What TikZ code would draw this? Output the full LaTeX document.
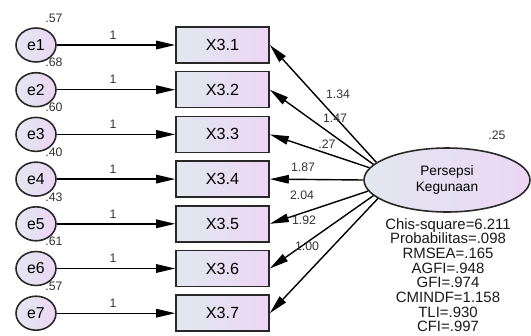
\documentclass[tikz,border=0pt]{standalone}
\usepackage{fontspec}
\setmainfont{Liberation Sans}
\usetikzlibrary{arrows.meta,shapes.geometric}
\definecolor{shadeleft}{RGB}{226,232,240}
\definecolor{shaderight}{RGB}{236,214,244}
\definecolor{linegray}{RGB}{40,40,40}
\begin{document}
\begin{tikzpicture}[x=0.02cm,y=-0.02cm,
	errnode/.style={draw=linegray,line width=0.9pt,ellipse,minimum width=0.8cm,minimum height=0.68cm,inner sep=0pt,left color=shadeleft,right color=shaderight,font=\fontsize{9}{10}\selectfont},
	obsnode/.style={draw=linegray,line width=0.9pt,rectangle,minimum width=1.86cm,minimum height=0.72cm,inner sep=0pt,left color=shadeleft,right color=shaderight,font=\fontsize{9.2}{10}\selectfont},
	latnode/.style={draw=linegray,line width=0.9pt,ellipse,minimum width=3.32cm,minimum height=1.28cm,inner sep=0pt,left color=shadeleft,right color=shaderight,align=center,font=\fontsize{7.8}{9.1}\selectfont},
	val/.style={font=\fontsize{7}{8}\selectfont,text=black!80,inner sep=0pt},
	path/.style={-{Triangle[length=0.38cm,width=0.17cm]},line width=0.8pt}]
	\useasboundingbox (0,0) rectangle (531,335);
	
	\node[errnode] (E1) at (36,45) {e1};
	\node[errnode] (E2) at (36,89.7) {e2};
	\node[errnode] (E3) at (36,134.4) {e3};
	\node[errnode] (E4) at (36,179.1) {e4};
	\node[errnode] (E5) at (36,223.8) {e5};
	\node[errnode] (E6) at (36,268.5) {e6};
	\node[errnode] (E7) at (36,313.2) {e7};
	
	\node[obsnode] (X31) at (222.5,45) {X3.1};
	\node[obsnode] (X32) at (222.5,89.7) {X3.2};
	\node[obsnode] (X33) at (222.5,134.4) {X3.3};
	\node[obsnode] (X34) at (222.5,179.1) {X3.4};
	\node[obsnode] (X35) at (222.5,223.8) {X3.5};
	\node[obsnode] (X36) at (222.5,268.5) {X3.6};
	\node[obsnode] (X37) at (222.5,313.2) {X3.7};
	
	\node[latnode] (PersepsiKegunaan) at (447,180) {Persepsi\\Kegunaan};
	
	\draw[path] (E1) to (X31);
	\draw[path] (E2) to (X32);
	\draw[path] (E3) to (X33);
	\draw[path] (E4) to (X34);
	\draw[path] (E5) to (X35);
	\draw[path] (E6) to (X36);
	\draw[path] (E7) to (X37);
	
	\draw[path] (PersepsiKegunaan.166) to (X31.east);
	\draw[path] (PersepsiKegunaan.168) to (X32.east);
	\draw[path] (PersepsiKegunaan.171) to (X33.east);
	\draw[path] (PersepsiKegunaan.west) to (X34.east);
	\draw[path] (PersepsiKegunaan.188) to (X35.east);
	\draw[path] (PersepsiKegunaan.192) to (X36.east);
	\draw[path] (PersepsiKegunaan.195) to (X37.east);
	
	\node[val] (L1) at (113,35) {1};
	\node[val] (L2) at (113,79.7) {1};
	\node[val] (L3) at (113,124.4) {1};
	\node[val] (L4) at (113,169.1) {1};
	\node[val] (L5) at (113,213.8) {1};
	\node[val] (L6) at (113,258.5) {1};
	\node[val] (L7) at (113,303.2) {1};
	
	\node[val] (V1) at (54,18) {.57};
	\node[val] (V2) at (54,62.7) {.68};
	\node[val] (V3) at (54,107.4) {.60};
	\node[val] (V4) at (54,152.1) {.40};
	\node[val] (V5) at (54,196.8) {.43};
	\node[val] (V6) at (54,241.5) {.61};
	\node[val] (V7) at (54,286.2) {.57};
	
	\node[val] (W1) at (338,94) {1.34};
	\node[val] (W2) at (335,118) {1.47};
	\node[val] (W3) at (327,144) {.27};
	\node[val] (W4) at (303,167) {1.87};
	\node[val] (W5) at (302,195) {2.04};
	\node[val] (W6) at (304,220) {1.92};
	\node[val] (W7) at (307,246) {1.00};
	
	\node[val] (R2) at (497,135) {.25};
	
	\node[anchor=north,align=center,inner sep=0pt,font=\fontsize{8.5}{8.35}\selectfont,text=black!90] (FitIndex) at (448,218)
		{Chis-square=6.211\\Probabilitas=.098\\RMSEA=.165\\AGFI=.948\\GFI=.974\\CMINDF=1.158\\TLI=.930\\CFI=.997};
\end{tikzpicture}
\end{document}
